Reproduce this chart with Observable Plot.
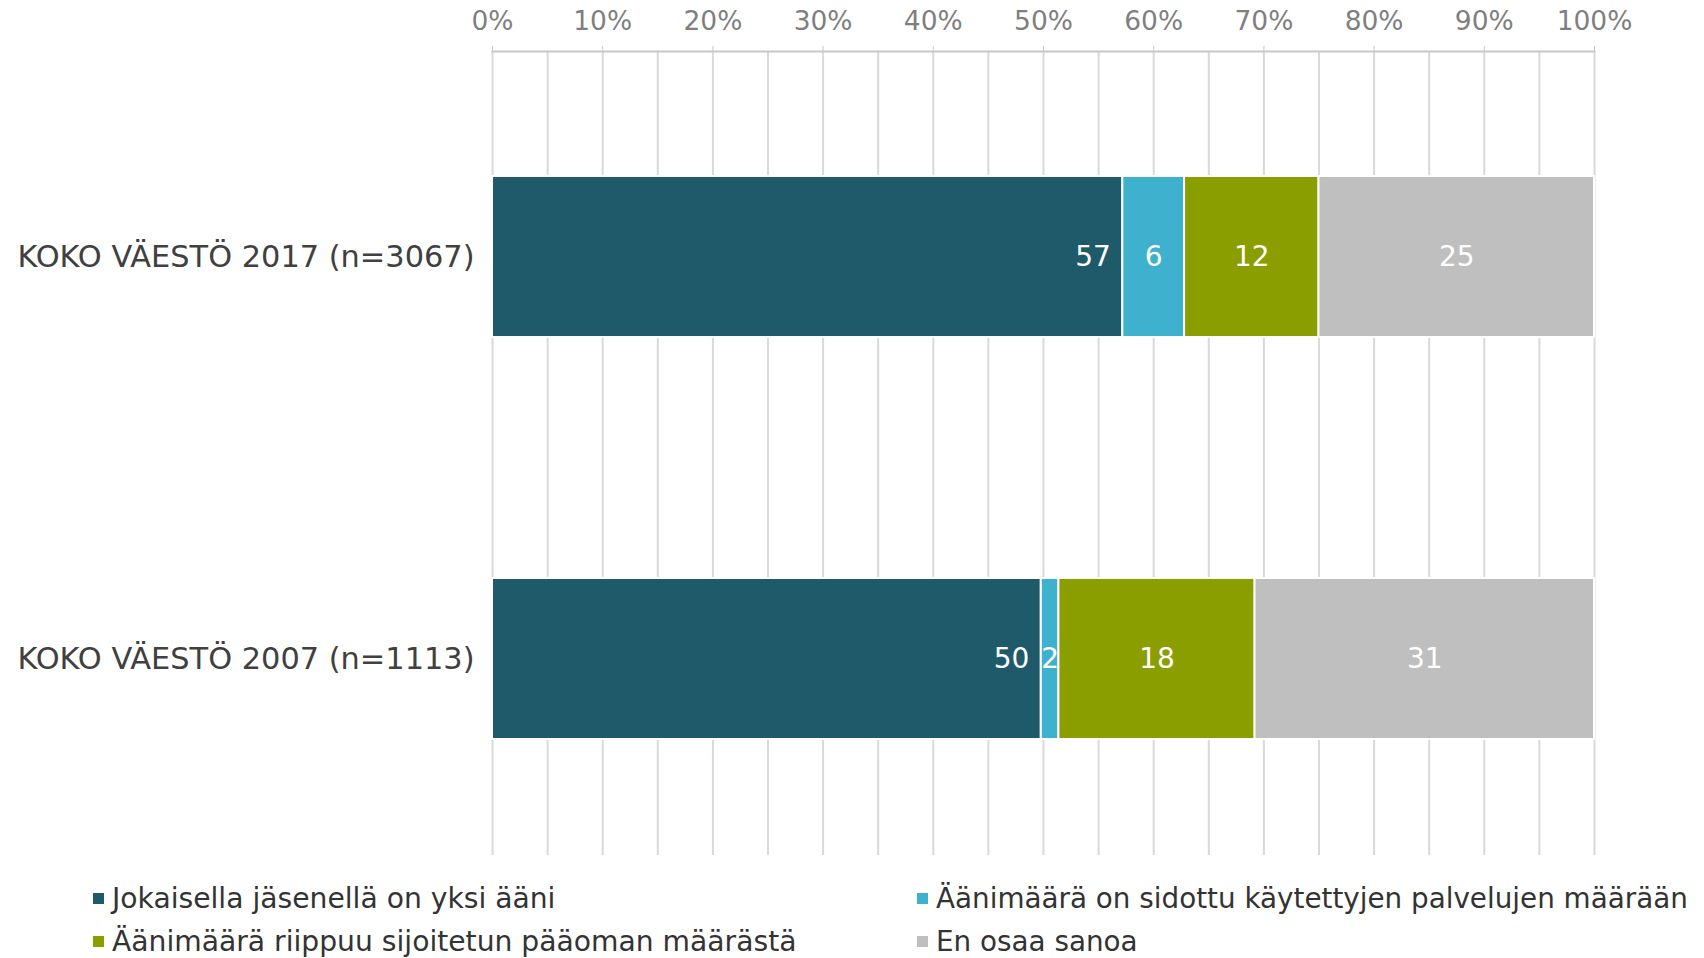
<!DOCTYPE html>
<html>
<head>
<meta charset="utf-8">
<script src="https://cdn.jsdelivr.net/npm/d3@7"></script>
<script src="https://cdn.jsdelivr.net/npm/@observablehq/plot@0.6"></script>
<style>
  html, body { margin: 0; padding: 0; background: #fff; }
  body { width: 1704px; height: 958px; overflow: hidden; font-family: "DejaVu Sans", Verdana, sans-serif; }
  #legend { display: grid; grid-template-columns: 824px auto; padding-left: 93px; padding-top: 2px; }
  .item { display: flex; align-items: center; height: 43px; font-size: 28.2px; color: #333; white-space: nowrap; }
  .item.c2 { font-size: 27.8px; }
  .sw { width: 11px; height: 11px; margin-right: 8px; flex: none; }
</style>
</head>
<body>
<div id="chart"></div>
<div id="legend"></div>
<script>
const groups = ["KOKO VÄESTÖ 2017 (n=3067)", "KOKO VÄESTÖ 2007 (n=1113)"];
const categories = [
  "Jokaisella jäsenellä on yksi ääni",
  "Äänimäärä on sidottu käytettyjen palvelujen määrään",
  "Äänimäärä riippuu sijoitetun pääoman määrästä",
  "En osaa sanoa"
];
const colors = ["#1E5A69", "#3DB1CE", "#8A9E00", "#BFBFBF"];
const values2017 = [57.2, 5.6, 12.2, 25.0];
const values2007 = [49.8, 1.6, 17.8, 30.8];
const tickValues = [0, 10, 20, 30, 40, 50, 60, 70, 80, 90, 100];
const gridValues = [0, 5, 10, 15, 20, 25, 30, 35, 40, 45, 50, 55, 60, 65, 70, 75, 80, 85, 90, 95, 100];

const series = [values2017, values2007];
const data = [];
groups.forEach((g, gi) => {
  categories.forEach((c, ci) => {
    data.push({group: g, category: c, value: series[gi][ci]});
  });
});
const first = data.filter(d => d.category === categories[0]);

const font = "DejaVu Sans, Verdana, sans-serif";

const chart = Plot.plot({
  width: 1704,
  height: 875,
  marginLeft: 492,
  marginRight: 110,
  marginTop: 51,
  marginBottom: 20,
  style: {fontFamily: font, background: "white"},
  x: {domain: [0, 100]},
  y: {domain: groups, paddingInner: 0.6, paddingOuter: 0.3, align: 0.52},
  color: {domain: categories, range: colors},
  marks: [
    Plot.ruleX(gridValues, {stroke: "#d9d9d9", strokeWidth: 2}),
    Plot.frame({anchor: "top", stroke: "#c8c8c8", strokeWidth: 2}),
    Plot.axisX({anchor: "top", ticks: tickValues, tickFormat: d => d + "%", tickSize: 6, tickPadding: 16,
      stroke: "#c8c8c8", fill: "#7f7f7f", fontSize: 26.5, label: null}),
    Plot.axisY({tickSize: 0, tickPadding: 18, fontSize: 30.4, fill: "#404040", label: null}),
    Plot.barX(data, {x: "value", y: "group", fill: "category", z: "category", stroke: "white", strokeWidth: 2}),
    Plot.text(first, {x: "value", y: "group", text: d => String(Math.round(d.value)), textAnchor: "end", dx: -12,
      fill: "white", fontSize: 28}),
    Plot.text(data, Plot.stackX({x: "value", y: "group", z: "category",
      text: d => d.category === categories[0] ? "" : String(Math.round(d.value)),
      fill: "white", fontSize: 28}))
  ]
});
document.getElementById("chart").appendChild(chart);

const legend = document.getElementById("legend");
const order = [0, 1, 2, 3];
order.forEach((i, k) => {
  const item = document.createElement("div");
  item.className = "item" + (k % 2 === 1 ? " c2" : "");
  const sw = document.createElement("span");
  sw.className = "sw";
  sw.style.background = colors[i];
  const label = document.createElement("span");
  label.textContent = categories[i];
  item.appendChild(sw);
  item.appendChild(label);
  legend.appendChild(item);
});
</script>
</body>
</html>
